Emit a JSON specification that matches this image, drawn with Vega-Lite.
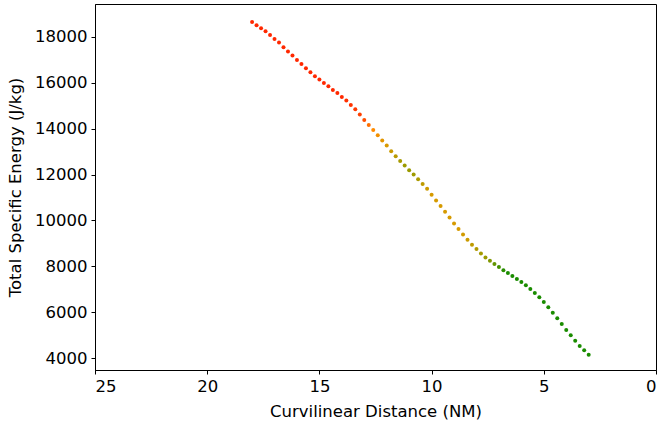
{
  "$schema": "https://vega.github.io/schema/vega-lite/v6.json",
  "width": 561,
  "height": 366,
  "autosize": {"type": "none"},
  "padding": {"left": 95, "top": 4, "right": 3, "bottom": 57},
  "background": "white",
  "config": {
    "font": "DejaVu Sans",
    "view": {"stroke": "black", "strokeWidth": 1},
    "axis": {
      "grid": false,
      "domainColor": "black",
      "tickColor": "black",
      "tickSize": 4,
      "labelColor": "black",
      "titleColor": "black",
      "labelFont": "DejaVu Sans",
      "titleFont": "DejaVu Sans",
      "labelFontSize": 16.5,
      "titleFontSize": 16.5,
      "titleFontWeight": "normal",
      "labelPadding": 4
    }
  },
  "data": {
    "values": [
      {"d": 18.0, "e": 18654, "k": 0},
      {"d": 17.8, "e": 18510, "k": 0},
      {"d": 17.6, "e": 18379, "k": 0},
      {"d": 17.4, "e": 18248, "k": 0},
      {"d": 17.2, "e": 18087, "k": 0},
      {"d": 17.0, "e": 17913, "k": 0},
      {"d": 16.8, "e": 17756, "k": 0},
      {"d": 16.6, "e": 17551, "k": 0},
      {"d": 16.4, "e": 17364, "k": 0},
      {"d": 16.2, "e": 17190, "k": 0},
      {"d": 16.0, "e": 16998, "k": 0},
      {"d": 15.8, "e": 16824, "k": 0},
      {"d": 15.6, "e": 16636, "k": 0},
      {"d": 15.4, "e": 16462, "k": 0},
      {"d": 15.2, "e": 16288, "k": 0},
      {"d": 15.0, "e": 16144, "k": 0},
      {"d": 14.8, "e": 15996, "k": 0},
      {"d": 14.6, "e": 15852, "k": 0},
      {"d": 14.4, "e": 15691, "k": 0},
      {"d": 14.2, "e": 15560, "k": 0},
      {"d": 14.0, "e": 15386, "k": 0},
      {"d": 13.8, "e": 15229, "k": 0.02},
      {"d": 13.6, "e": 15037, "k": 0.03},
      {"d": 13.4, "e": 14850, "k": 0.04},
      {"d": 13.2, "e": 14619, "k": 0.06},
      {"d": 13.0, "e": 14384, "k": 0.1},
      {"d": 12.8, "e": 14166, "k": 0.18},
      {"d": 12.6, "e": 13948, "k": 0.25},
      {"d": 12.4, "e": 13717, "k": 0.33},
      {"d": 12.2, "e": 13486, "k": 0.42},
      {"d": 12.0, "e": 13268, "k": 0.48},
      {"d": 11.8, "e": 13020, "k": 0.55},
      {"d": 11.6, "e": 12802, "k": 0.62},
      {"d": 11.4, "e": 12597, "k": 0.7},
      {"d": 11.2, "e": 12397, "k": 0.74},
      {"d": 11.0, "e": 12192, "k": 0.75},
      {"d": 10.8, "e": 12005, "k": 0.73},
      {"d": 10.6, "e": 11800, "k": 0.68},
      {"d": 10.4, "e": 11591, "k": 0.6},
      {"d": 10.2, "e": 11386, "k": 0.54},
      {"d": 10.0, "e": 11116, "k": 0.5},
      {"d": 9.8, "e": 10872, "k": 0.5},
      {"d": 9.6, "e": 10624, "k": 0.5},
      {"d": 9.4, "e": 10375, "k": 0.5},
      {"d": 9.2, "e": 10131, "k": 0.5},
      {"d": 9.0, "e": 9870, "k": 0.5},
      {"d": 8.8, "e": 9621, "k": 0.5},
      {"d": 8.6, "e": 9391, "k": 0.52},
      {"d": 8.4, "e": 9155, "k": 0.55},
      {"d": 8.2, "e": 8937, "k": 0.6},
      {"d": 8.0, "e": 8750, "k": 0.66},
      {"d": 7.8, "e": 8563, "k": 0.71},
      {"d": 7.6, "e": 8388, "k": 0.75},
      {"d": 7.4, "e": 8240, "k": 0.8},
      {"d": 7.2, "e": 8096, "k": 0.86},
      {"d": 7.0, "e": 7966, "k": 0.92},
      {"d": 6.8, "e": 7822, "k": 0.97},
      {"d": 6.6, "e": 7705, "k": 1},
      {"d": 6.4, "e": 7574, "k": 1},
      {"d": 6.2, "e": 7443, "k": 1},
      {"d": 6.0, "e": 7313, "k": 1},
      {"d": 5.8, "e": 7168, "k": 1},
      {"d": 5.6, "e": 7007, "k": 1},
      {"d": 5.4, "e": 6833, "k": 1},
      {"d": 5.2, "e": 6646, "k": 1},
      {"d": 5.0, "e": 6441, "k": 1},
      {"d": 4.8, "e": 6210, "k": 1},
      {"d": 4.6, "e": 5975, "k": 1},
      {"d": 4.4, "e": 5731, "k": 1},
      {"d": 4.2, "e": 5482, "k": 1},
      {"d": 4.0, "e": 5221, "k": 1},
      {"d": 3.8, "e": 4990, "k": 1},
      {"d": 3.6, "e": 4755, "k": 1},
      {"d": 3.4, "e": 4524, "k": 1},
      {"d": 3.2, "e": 4337, "k": 1},
      {"d": 3.0, "e": 4145, "k": 1}
    ]
  },
  "mark": {"type": "circle", "size": 16, "opacity": 1},
  "encoding": {
    "x": {
      "field": "d",
      "type": "quantitative",
      "scale": {"domain": [25, 0], "nice": false, "zero": false},
      "axis": {"values": [25, 20, 15, 10, 5, 0], "format": "d", "title": "Curvilinear Distance (NM)", "titlePadding": 9}
    },
    "y": {
      "field": "e",
      "type": "quantitative",
      "scale": {"domain": [3477, 19439], "nice": false, "zero": false},
      "axis": {"values": [4000, 6000, 8000, 10000, 12000, 14000, 16000, 18000], "format": "d", "title": "Total Specific Energy (J/kg)", "titlePadding": 11}
    },
    "color": {
      "field": "k",
      "type": "quantitative",
      "legend": null,
      "scale": {
        "domain": [0, 0.25, 0.5, 0.75, 1],
        "range": ["#ff2800", "#ff8a00", "#d69a00", "#9a9a00", "#1a8c00"],
        "interpolate": "rgb"
      }
    }
  }
}
